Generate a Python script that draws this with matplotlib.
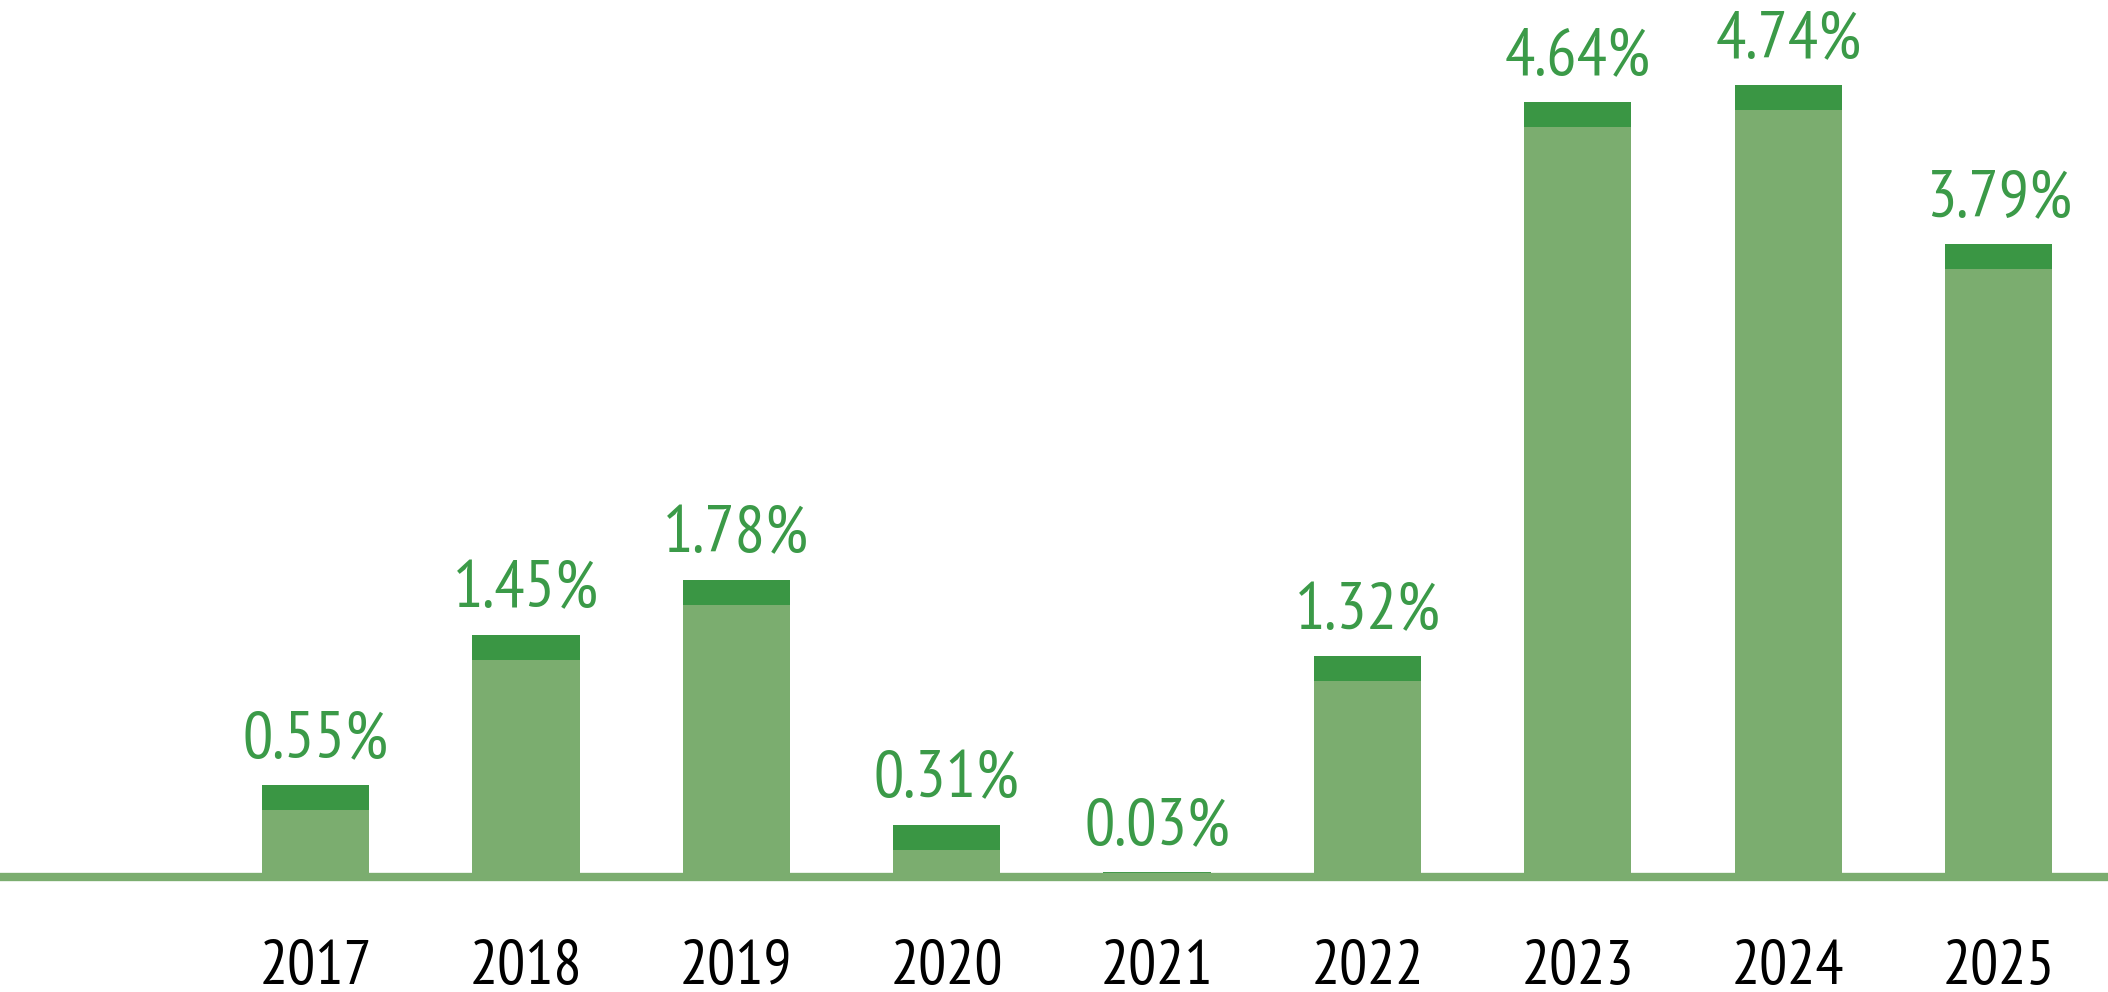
import matplotlib
matplotlib.use('Agg')
import matplotlib.pyplot as plt
from matplotlib.font_manager import FontProperties

years = ['2017', '2018', '2019', '2020', '2021', '2022', '2023', '2024', '2025']
values = [0.55, 1.45, 1.78, 0.31, 0.03, 1.32, 4.64, 4.74, 3.79]
labels = ['0.55%', '1.45%', '1.78%', '0.31%', '0.03%', '1.32%', '4.64%', '4.74%', '3.79%']

light = '#7bad6f'
dark = '#3a9644'
text_green = '#3b9a48'

fams = ['PT Sans Narrow', 'Fira Sans Condensed', 'DejaVu Sans']
val_font = FontProperties(family=fams, size=48.5)
year_font = FontProperties(family=fams, size=45)

fig = plt.figure(figsize=(21.08, 9.92), dpi=100)
ax = fig.add_axes([0, 0, 1, 1])

x = list(range(len(years)))
cap = 0.15
ax.bar(x, values, width=0.51, color=light, linewidth=0)
caps_bottom = [max(0, v - cap) for v in values]
caps_h = [v - b for v, b in zip(values, caps_bottom)]
ax.bar(x, caps_h, bottom=caps_bottom, width=0.51, color=dark, linewidth=0)

# base line
ax.axhline(0, color=light, linewidth=6, zorder=3)

for xi, v, lab in zip(x, values, labels):
	ax.annotate(lab, (xi, v), xytext=(0, 20), textcoords='offset points',
	            ha='center', va='baseline', color=text_green,
	            fontproperties=val_font)

for xi, yr in zip(x, years):
	ax.annotate(yr, (xi, 0), xytext=(0, -77), textcoords='offset points',
	            ha='center', va='baseline', color='black',
	            fontproperties=year_font)

ax.set_xlim(-1.5, 8.52)
ax.set_ylim(-0.689, 5.25)
ax.axis('off')

plt.savefig('out.png', dpi=100)
